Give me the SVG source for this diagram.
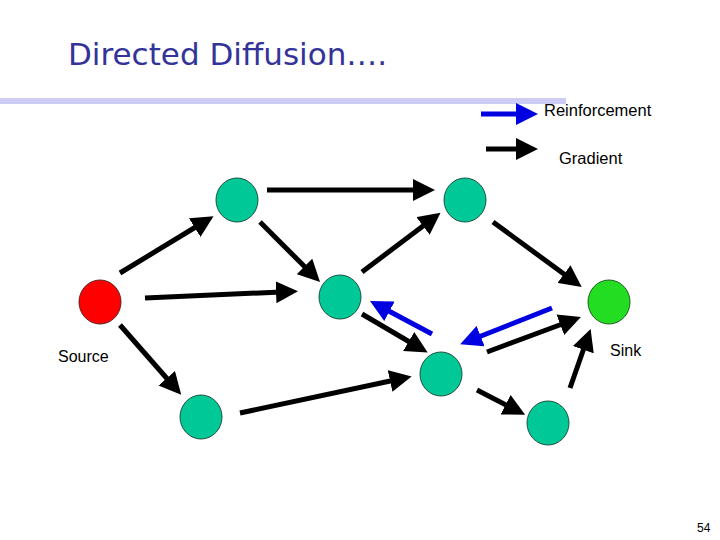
<svg xmlns="http://www.w3.org/2000/svg" width="720" height="540" viewBox="0 0 720 540">
<style>
.n{fill:#00c896;stroke:#205040;stroke-width:1}
.a{stroke:#000;stroke-width:5;marker-end:url(#hk)}
.b{stroke:#0000e0;stroke-width:5;marker-end:url(#hb)}
text{font-family:"Liberation Sans",Arial,sans-serif}
</style>
<defs>
<marker id="hk" markerWidth="4.4" markerHeight="4.4" refX="1" refY="2.2" orient="auto"><path d="M0,0 L4.4,2.2 L0,4.4 Z" fill="#000"/></marker>
<marker id="hb" markerWidth="4.4" markerHeight="4.4" refX="1" refY="2.2" orient="auto"><path d="M0,0 L4.4,2.2 L0,4.4 Z" fill="#0000e0"/></marker>
</defs>
<rect width="720" height="540" fill="#fff"/>
<text x="68" y="65" font-size="31" fill="#333399" style="font-family:'DejaVu Sans',Verdana,sans-serif">Directed Diffusion….</text>
<rect x="0" y="98" width="566" height="6" fill="#ccccf4"/>
<g id="legend">
<line class="b" x1="481" y1="114" x2="521" y2="114"/>
<text x="544" y="116" font-size="16.5">Reinforcement</text>
<line class="a" x1="486" y1="149" x2="521" y2="149"/>
<text x="559" y="164" font-size="16.5">Gradient</text>
</g>
<g id="connectors">
<line class="a" x1="120" y1="273" x2="199" y2="225"/>
<line class="a" x1="267" y1="190" x2="418" y2="190"/>
<line class="a" x1="145" y1="298" x2="281" y2="292"/>
<line class="a" x1="120" y1="325" x2="170" y2="382"/>
<line class="a" x1="260" y1="222" x2="308" y2="270"/>
<line class="a" x1="362" y1="272" x2="427" y2="223"/>
<line class="a" x1="493" y1="222" x2="568" y2="277"/>
<line class="a" x1="362" y1="314" x2="413" y2="344"/>
<line class="a" x1="240" y1="413" x2="395" y2="380"/>
<line class="a" x1="487" y1="352" x2="565" y2="323"/>
<line class="a" x1="477" y1="390" x2="510" y2="407"/>
<line class="a" x1="570" y1="388" x2="585" y2="345"/>
<line class="b" x1="432" y1="334" x2="385" y2="309"/>
<line class="b" x1="552" y1="308" x2="476" y2="338"/>
</g>
<g id="source"><ellipse cx="100" cy="302" rx="21" ry="22" fill="#ff0000" stroke="#602020"/><text x="58" y="362" font-size="16">Source</text></g>
<g id="n1"><ellipse class="n" cx="237" cy="200" rx="21" ry="22"/></g>
<g id="n2"><ellipse class="n" cx="465" cy="200" rx="21" ry="22"/></g>
<g id="n3"><ellipse class="n" cx="340" cy="297" rx="21" ry="22"/></g>
<g id="sink"><ellipse cx="609" cy="302" rx="21" ry="22" fill="#22dd22" stroke="#206020"/><text x="610" y="356" font-size="16">Sink</text></g>
<g id="n4"><ellipse class="n" cx="441" cy="374" rx="21" ry="22"/></g>
<g id="n5"><ellipse class="n" cx="201" cy="417" rx="21" ry="22"/></g>
<g id="n6"><ellipse class="n" cx="548" cy="423" rx="21" ry="22"/></g>
<text x="697" y="532" font-size="12">54</text>
</svg>
